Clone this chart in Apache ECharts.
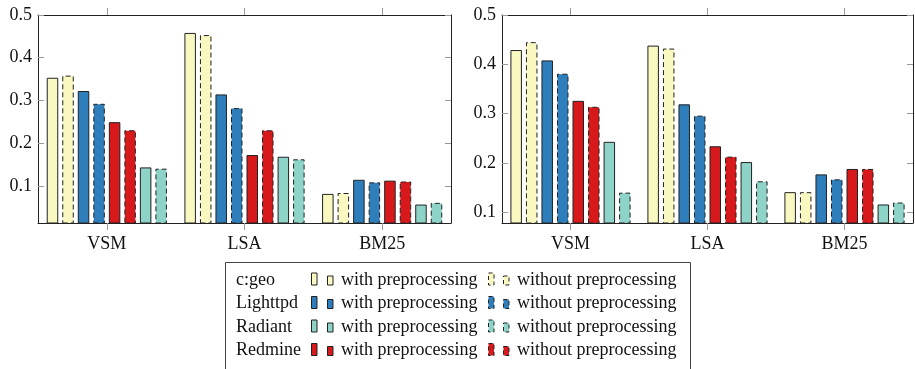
<!DOCTYPE html>
<html>
<head>
<meta charset="utf-8">
<script src="https://cdn.jsdelivr.net/npm/echarts@6/dist/echarts.min.js"></script>
<style>html,body{margin:0;padding:0;background:#fff;}#c{width:915px;height:369px;}</style>
</head>
<body>
<div id="c"></div>
<script>
// ---- data ----
const categories = ['VSM', 'LSA', 'BM25'];
const yTicks = [0.1, 0.2, 0.3, 0.4, 0.5];
const projects = ['c:geo', 'Lighttpd', 'Radiant', 'Redmine'];
const variants = ['with preprocessing', 'without preprocessing'];

// left panel
const cgeoWithL = [0.353, 0.458, 0.081];
const cgeoWithoutL = [0.358, 0.453, 0.083];
const lighttpdWithL = [0.322, 0.314, 0.114];
const lighttpdWithoutL = [0.292, 0.282, 0.108];
const redmineWithL = [0.249, 0.172, 0.112];
const redmineWithoutL = [0.230, 0.230, 0.110];
const radiantWithL = [0.143, 0.168, 0.056];
const radiantWithoutL = [0.140, 0.162, 0.060];

// right panel
const cgeoWithR = [0.429, 0.438, 0.141];
const cgeoWithoutR = [0.445, 0.432, 0.141];
const lighttpdWithR = [0.408, 0.319, 0.177];
const lighttpdWithoutR = [0.381, 0.296, 0.167];
const redmineWithR = [0.326, 0.234, 0.188];
const redmineWithoutR = [0.314, 0.213, 0.188];
const radiantWithR = [0.243, 0.202, 0.116];
const radiantWithoutR = [0.140, 0.163, 0.120];

// ---- style ----
const colors = { 'c:geo': '#f8f8c0', 'Lighttpd': '#2e7ebc', 'Radiant': '#8dd3c7', 'Redmine': '#d7191c' };
const FONT = '"Liberation Serif", "Times New Roman", serif';
const TXT = '#111';
const barOrder = [
  ['c:geo', 0], ['c:geo', 1], ['Lighttpd', 0], ['Lighttpd', 1],
  ['Redmine', 0], ['Redmine', 1], ['Radiant', 0], ['Radiant', 1]
];
const leftData = [cgeoWithL, cgeoWithoutL, lighttpdWithL, lighttpdWithoutL, redmineWithL, redmineWithoutL, radiantWithL, radiantWithoutL];
const rightData = [cgeoWithR, cgeoWithoutR, lighttpdWithR, lighttpdWithoutR, redmineWithR, redmineWithoutR, radiantWithR, radiantWithoutR];

const chart = echarts.init(document.getElementById('c'), null, { renderer: 'canvas' });

const grids = [
  { left: 38, top: 15, width: 413, height: 208 },
  { left: 502, top: 15, width: 411, height: 208 }
];
const yMins = [0.0128, 0.0785];

const xAxes = [], yAxes = [], series = [];
grids.forEach((g, gi) => {
  xAxes.push({
    type: 'category', gridIndex: gi, data: categories, position: 'bottom',
    axisLine: { show: true, onZero: false, lineStyle: { color: '#222', width: 1 } },
    axisTick: { show: true, alignWithLabel: true, inside: false, length: 7, lineStyle: { color: '#999' } },
    axisLabel: { color: TXT, fontFamily: FONT, fontSize: 18, margin: 12 },
    splitLine: { show: false }
  });
  xAxes.push({
    type: 'category', gridIndex: gi, data: categories, position: 'top',
    axisLine: { show: true, onZero: false, lineStyle: { color: '#222', width: 1 } },
    axisTick: { show: true, alignWithLabel: true, inside: false, length: 7, lineStyle: { color: '#999' } },
    axisLabel: { show: false }, splitLine: { show: false }
  });
  yAxes.push({
    type: 'value', gridIndex: gi, min: yMins[gi], max: 0.5, position: 'left',
    axisLine: { show: true, lineStyle: { color: '#222', width: 1 } },
    axisTick: { show: true, inside: true, length: 6, customValues: yTicks, lineStyle: { color: '#999' } },
    axisLabel: { color: TXT, fontFamily: FONT, fontSize: 18, margin: 6, customValues: yTicks,
      formatter: v => v.toFixed(1) },
    splitLine: { show: false }
  });
  yAxes.push({
    type: 'value', gridIndex: gi, min: yMins[gi], max: 0.5, position: 'right',
    axisLine: { show: true, lineStyle: { color: '#222', width: 1 } },
    axisTick: { show: true, inside: true, length: 6, customValues: yTicks, lineStyle: { color: '#999' } },
    axisLabel: { show: false }, splitLine: { show: false }
  });
  const data = gi === 0 ? leftData : rightData;
  barOrder.forEach(([p, v], i) => {
    series.push({
      type: 'bar', name: p + ' ' + variants[v],
      xAxisIndex: gi * 2, yAxisIndex: gi * 2,
      data: data[i],
      barWidth: 11.5, barGap: '35%',
      itemStyle: {
        color: colors[p], borderColor: '#222', borderWidth: 1,
        borderType: v === 1 ? [5, 3] : 'solid'
      },
      emphasis: { disabled: true }
    });
  });
});

// legend drawn as graphic
const legendEls = [];
legendEls.push({ type: 'rect', shape: { x: 225.5, y: 262.5, width: 465, height: 130 },
  style: { fill: '#fff', stroke: '#444', lineWidth: 1 }, z: 0 });
const rowMid = [280, 303.5, 327, 350.5];
projects.forEach((p, r) => {
  const y = rowMid[r];
  legendEls.push({ type: 'text', x: 236, y: y, style: { text: p, fontFamily: FONT, fontSize: 18, fill: TXT, verticalAlign: 'middle' }, z: 2 });
  [[311, 327, 341, 0], [488, 503, 517, 1]].forEach(([x1, x2, tx, v]) => {
    const dash = v === 1 ? [4, 3] : null;
    legendEls.push({ type: 'rect', shape: { x: x1 + 0.5, y: y - 7, width: 5.5, height: 12 },
      style: { fill: colors[p], stroke: '#222', lineWidth: 1, lineDash: dash }, z: 2 });
    legendEls.push({ type: 'rect', shape: { x: x2 + 0.5, y: y - 4, width: 5.5, height: 9 },
      style: { fill: colors[p], stroke: '#222', lineWidth: 1, lineDash: dash }, z: 2 });
    legendEls.push({ type: 'text', x: tx, y: y, style: { text: variants[v], fontFamily: FONT, fontSize: 18, fill: TXT, verticalAlign: 'middle' }, z: 2 });
  });
});

chart.setOption({
  animation: false,
  backgroundColor: '#fff',
  grid: grids,
  xAxis: xAxes,
  yAxis: yAxes,
  series: series,
  graphic: legendEls
});
</script>
</body>
</html>
